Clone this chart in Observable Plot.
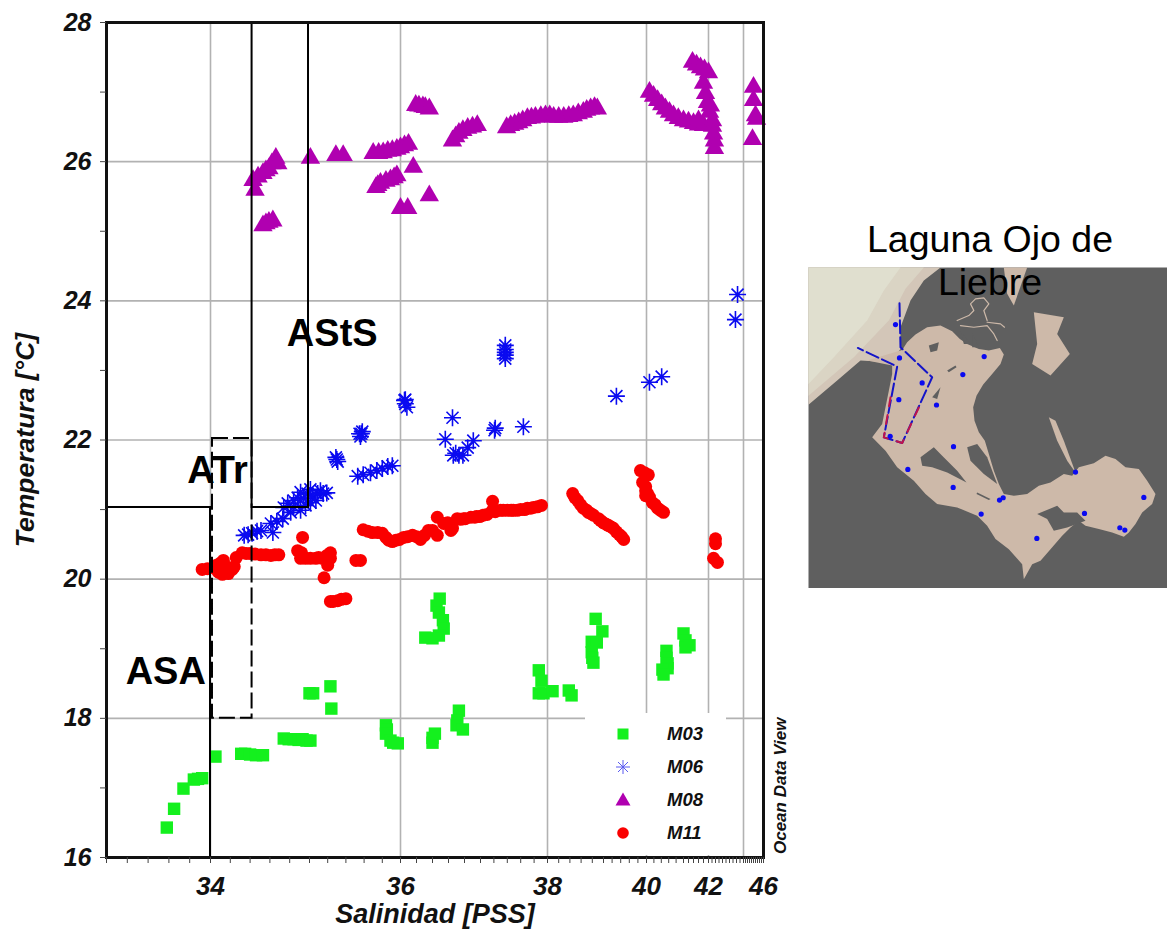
<!DOCTYPE html>
<html><head><meta charset="utf-8">
<script src="https://cdn.jsdelivr.net/npm/d3@7"></script>
<script src="https://cdn.jsdelivr.net/npm/@observablehq/plot@0.6"></script>
<style>
html,body{margin:0;padding:0;background:#fff;overflow:hidden;width:1167px;height:931px}
#chart svg,#map svg{position:absolute;background:transparent;max-width:none}
#chart svg{left:0;top:0}
#map svg{left:808px;top:267px}
#title{position:absolute;left:808px;width:364px;top:218px;text-align:center;font:37.5px/43px "Liberation Sans",Arial,sans-serif;color:#000}
#legend{position:absolute;left:585px;top:713px;width:141px;height:142px;background:#fff;font:italic bold 18.5px "Liberation Sans",Arial,sans-serif;color:#111}
#legend div{position:absolute;left:82px;line-height:20px}
#legend svg{position:absolute;left:26px;top:0}
</style></head><body>
<div id="chart"></div><div id="map"></div>
<div id="title">Laguna Ojo de<br>Liebre</div>
<div id="legend"></div>
<script>
// Salinity [PSS], temperature [°C]
const m03=[[33.58,16.43],[33.65,16.70],[33.74,16.99],[33.84,17.12],[33.88,17.13],[33.92,17.14],[34.05,17.45],[34.31,17.49],[34.35,17.49],[34.40,17.48],[34.46,17.47],[34.53,17.47],[34.74,17.71],[34.79,17.70],[34.84,17.70],[34.89,17.69],[34.93,17.70],[34.97,17.68],[35.01,17.68],[35.00,18.36],[35.04,18.36],[35.23,18.46],[35.24,18.14],[35.84,17.90],[35.85,17.84],[35.84,17.78],[35.89,17.68],[35.92,17.65],[35.97,17.64],[36.40,17.72],[36.40,17.65],[36.43,17.78],[36.49,19.72],[36.45,19.62],[36.48,19.52],[36.53,19.41],[36.54,19.29],[36.48,19.19],[36.40,19.15],[36.31,19.16],[36.73,18.11],[36.71,17.97],[36.70,17.90],[36.78,17.84],[37.87,18.69],[37.91,18.54],[37.87,18.36],[37.94,18.36],[38.09,18.39],[38.38,18.40],[38.43,18.33],[38.86,19.43],[38.98,19.25],[38.79,19.10],[38.88,19.09],[38.79,18.95],[38.80,18.87],[38.82,18.80],[40.54,18.97],[40.54,18.87],[40.57,18.79],[40.57,18.72],[40.43,18.70],[40.46,18.63],[41.00,19.22],[41.08,19.12],[41.08,19.02],[41.24,19.05]];
const m06=[[34.34,20.63],[34.38,20.64],[34.42,20.66],[34.47,20.69],[34.51,20.70],[34.63,20.67],[34.61,20.80],[34.67,20.83],[34.73,20.87],[34.81,20.96],[34.78,21.09],[34.74,21.03],[34.84,21.13],[34.84,21.04],[34.88,21.17],[34.94,21.16],[34.98,21.23],[34.91,21.25],[35.01,21.29],[35.03,21.20],[35.09,21.23],[35.12,21.27],[35.15,21.23],[35.19,21.24],[34.91,20.99],[34.96,21.06],[35.01,21.10],[35.07,21.13],[35.30,21.72],[35.29,21.75],[35.31,21.69],[35.57,22.09],[35.55,22.09],[35.58,22.12],[35.56,22.05],[36.06,22.52],[36.05,22.57],[36.06,22.58],[36.08,22.47],[37.37,23.36],[37.37,23.30],[37.37,23.26],[37.37,23.22],[37.37,23.17],[36.65,22.32],[36.56,22.01],[36.66,21.78],[36.69,21.81],[36.73,21.78],[36.78,21.78],[36.84,21.89],[36.91,21.99],[37.21,22.14],[37.22,22.17],[37.64,22.19],[35.53,21.48],[35.59,21.50],[35.67,21.53],[35.74,21.56],[35.80,21.59],[35.86,21.62],[35.91,21.63],[39.30,22.63],[40.08,22.83],[40.41,22.91],[43.66,24.09],[43.54,23.73]];
const m08=[[35.01,26.05],[35.29,26.09],[35.37,26.09],[35.70,26.12],[35.76,26.12],[35.81,26.13],[35.86,26.15],[35.91,26.16],[35.96,26.18],[36.00,26.20],[36.05,26.23],[36.10,26.25],[35.73,25.63],[35.75,25.66],[35.78,25.69],[35.84,25.72],[35.89,25.74],[35.93,25.77],[35.96,25.80],[36.16,25.92],[36.36,25.51],[36.00,25.33],[36.09,25.33],[36.19,26.81],[36.23,26.80],[36.28,26.79],[36.31,26.78],[36.36,26.76],[36.65,26.30],[36.69,26.36],[36.73,26.41],[36.78,26.45],[36.84,26.48],[36.90,26.50],[36.96,26.52],[34.66,26.05],[34.62,25.97],[34.59,25.90],[34.56,25.87],[34.53,25.83],[34.48,25.78],[34.43,25.73],[34.45,25.59],[34.59,25.13],[34.56,25.11],[34.53,25.08],[34.63,25.15],[34.68,25.97],[37.39,26.49],[37.45,26.52],[37.51,26.54],[37.57,26.56],[37.63,26.59],[37.70,26.62],[37.76,26.63],[37.82,26.64],[37.90,26.65],[37.97,26.66],[38.04,26.66],[38.11,26.64],[38.20,26.64],[38.29,26.64],[38.38,26.65],[38.46,26.66],[38.55,26.69],[38.64,26.71],[38.70,26.74],[38.77,26.76],[38.84,26.78],[38.89,26.76],[40.08,27.00],[40.19,26.94],[40.30,26.88],[40.41,26.82],[40.51,26.76],[40.62,26.71],[40.73,26.66],[40.86,26.62],[41.00,26.59],[41.20,26.57],[41.40,26.55],[41.60,26.53],[41.80,26.52],[41.60,26.59],[41.36,27.43],[41.52,27.39],[41.68,27.35],[41.84,27.32],[42.00,27.28],[41.80,27.13],[41.88,26.98],[41.96,26.85],[42.11,26.80],[42.06,26.71],[42.23,26.59],[42.23,26.51],[42.29,26.40],[42.34,26.30],[42.34,26.19],[45.0,27.07],[45.0,26.88],[45.2,26.66],[45.3,26.61],[44.9,26.32]];
const m11=[[33.92,20.14],[33.97,20.15],[34.05,20.15],[34.06,20.20],[34.10,20.23],[34.13,20.27],[34.13,20.12],[34.16,20.18],[34.18,20.12],[34.18,20.08],[34.12,20.07],[34.08,20.10],[34.22,20.14],[34.24,20.18],[34.26,20.31],[34.32,20.38],[34.36,20.37],[34.40,20.37],[34.45,20.36],[34.51,20.35],[34.56,20.35],[34.61,20.34],[34.65,20.35],[34.69,20.35],[34.93,20.60],[34.88,20.41],[34.92,20.38],[34.91,20.30],[34.96,20.30],[35.01,20.30],[35.07,20.30],[35.10,20.31],[35.14,20.30],[35.19,20.34],[35.23,20.38],[35.23,20.30],[35.20,20.20],[35.16,20.02],[35.51,20.27],[35.56,20.27],[35.23,19.68],[35.26,19.68],[35.31,19.69],[35.35,19.71],[35.40,19.72],[35.59,20.71],[35.64,20.69],[35.69,20.67],[35.75,20.67],[35.80,20.66],[35.84,20.60],[35.87,20.56],[35.91,20.54],[35.95,20.56],[35.99,20.57],[36.04,20.60],[36.09,20.61],[36.15,20.63],[36.20,20.61],[36.25,20.57],[36.30,20.63],[36.35,20.70],[36.40,20.70],[36.46,20.89],[36.46,20.63],[36.54,20.80],[36.59,20.81],[36.63,20.70],[36.65,20.73],[36.71,20.87],[36.75,20.86],[36.79,20.87],[36.81,20.87],[36.88,20.89],[36.93,20.89],[36.95,20.90],[36.99,20.90],[37.04,20.92],[37.10,20.93],[37.18,21.12],[37.18,20.99],[37.22,20.97],[37.30,20.99],[37.34,20.99],[37.40,20.99],[37.46,20.99],[37.49,20.99],[37.55,20.99],[37.60,21.00],[37.66,21.00],[37.70,21.02],[37.75,21.02],[37.79,21.03],[37.85,21.04],[37.91,21.06],[38.45,21.23],[38.49,21.17],[38.54,21.13],[38.59,21.07],[38.64,21.02],[38.70,20.99],[38.73,20.96],[38.78,20.94],[38.82,20.92],[38.91,20.87],[38.95,20.84],[39.00,20.81],[39.06,20.79],[39.12,20.77],[39.18,20.75],[39.23,20.73],[39.30,20.68],[39.37,20.64],[39.42,20.61],[39.47,20.57],[39.86,21.56],[39.95,21.53],[40.05,21.50],[39.91,21.39],[39.98,21.33],[39.98,21.27],[39.98,21.20],[40.03,21.23],[40.08,21.18],[40.16,21.10],[40.23,21.07],[40.30,21.02],[40.38,20.99],[40.46,20.96],[42.40,20.58],[42.40,20.51],[42.29,20.30],[42.51,20.24]];

const salBreaks=[33,34,35,36,37,38,39,40,41,42,44,46];
const salLabels=[34,36,38,40,42,46];
const salGrid=[34,36,38,40,42,44];
const tempGrid=[18,20,22,24,26];
const tempTicks=[16,17,18,19,20,21,22,23,24,25,26,27,28];
const tempLabels=[16,18,20,22,24,26,28];
const salMinor=d3.range(33,46.01,0.2).map(d=>+d.toFixed(1));
const solidBoxes=[{x1:33,x2:34,y1:16,y2:21.03},{x1:34.42,x2:34.99,y1:21.03,y2:28}];
const dashedBoxes=[{x1:34.02,x2:34.42,y1:18,y2:22.02}];
const waterLabels=[{s:33.57,t:18.67,name:"ASA"},{s:34.07,t:21.56,name:"ATr"},{s:35.25,t:23.53,name:"AStS"}];

const star={draw(c,size){const r=Math.sqrt(size/Math.PI);for(let i=0;i<4;i++){const a=i*Math.PI/4,x=r*Math.cos(a),y=r*Math.sin(a);c.moveTo(-x,-y);c.lineTo(x,y);}}};
const font='"Liberation Sans",Arial,sans-serif';
const bi={fontFamily:font,fontStyle:"italic",fontWeight:"bold",fill:"#111"};
const px={x:d=>d[0],y:d=>d[1]};

document.getElementById("chart").append(Plot.plot({
  width:800,height:931,marginLeft:106,marginRight:37,marginTop:22,marginBottom:74,
  x:{type:"linear",domain:salBreaks,range:[106,210,309,400,480,547,603,646,683,708,743,763],axis:null,label:null},
  y:{domain:[16,28],range:[857,22],axis:null,label:null},
  marks:[
    Plot.ruleX(salGrid,{stroke:"#b2b2b2",strokeWidth:1.6}),
    Plot.ruleY(tempGrid,{stroke:"#b2b2b2",strokeWidth:1.6}),
    Plot.dot(m03,{...px,symbol:"square",r:7,fill:"#14f01e"}),
    Plot.dot(m06,{...px,symbol:star,r:8.5,fill:"none",stroke:"#0a0af0",strokeWidth:1.6}),
    Plot.dot(m08,{...px,symbol:"triangle",r:7.2,fill:"#b000b0"}),
    Plot.dot(m11,{...px,r:6.5,fill:"#fa0000"}),
    Plot.rect(solidBoxes,{x1:"x1",x2:"x2",y1:"y1",y2:"y2",fill:"none",stroke:"#000",strokeWidth:2}),
    Plot.rect(dashedBoxes,{x1:"x1",x2:"x2",y1:"y1",y2:"y2",fill:"none",stroke:"#000",strokeWidth:2,strokeDasharray:"16 5"}),
    Plot.text(waterLabels,{x:"s",y:"t",text:"name",fontFamily:font,fontWeight:"bold",fontSize:38,fill:"#000"}),
    Plot.frame({stroke:"#111",strokeWidth:3}),
    Plot.axisX({ticks:salMinor,tickSize:6,tickFormat:()=>"",stroke:"#444",strokeWidth:1}),
    Plot.axisX({ticks:salLabels,tickSize:0,tickPadding:19,...bi,fontSize:26,tickFormat:d=>String(d)}),
    Plot.axisY({ticks:tempTicks,tickSize:6,tickFormat:()=>"",stroke:"#444",strokeWidth:1}),
    Plot.axisY({ticks:tempLabels,tickSize:0,tickPadding:15,...bi,fontSize:25,tickFormat:d=>String(d)}),
    Plot.text(["Salinidad [PSS]"],{frameAnchor:"bottom",dy:65,...bi,fontSize:27}),
    Plot.text(["Temperatura [°C]"],{frameAnchor:"left",textAnchor:"middle",dx:-81,rotate:-90,...bi,fontSize:26.5}),
    Plot.text(["Ocean Data View"],{x:()=>46,y:()=>17.03,dx:17,rotate:-90,...bi,fontSize:17})
  ]
}));

// Map (coordinates are local map units)
const seaLight=[[24,171],[300,171],[250,240],[200,330],[100,440],[24,520]];
const seaMid=[[24,171],[370,171],[315,235],[265,330],[160,440],[24,555]];
const seaBand=[[24,171],[420,171],[370,210],[330,270],[300,350],[300,415],[270,455],[180,450],[110,510],[24,582]];
const lagoon=[[305,418],[320,395],[345,372],[380,350],[420,345],[455,362],[478,385],[500,400],[535,415],[565,420],[598,412],[610,432],[600,460],[575,490],[548,522],[528,555],[518,590],[522,630],[535,665],[553,690],[565,730],[580,780],[595,820],[610,850],[640,855],[680,850],[715,825],[750,815],[790,790],[815,795],[835,770],[880,758],[915,735],[945,745],[975,770],[1015,775],[1040,810],[1065,850],[1055,880],[1025,905],[1005,940],[985,965],[970,978],[935,965],[895,955],[855,945],[835,930],[810,950],[785,975],[750,1015],[720,1050],[695,1060],[670,1105],[665,1060],[625,1015],[585,985],[560,945],[530,915],[470,890],[410,880],[375,850],[340,810],[290,770],[255,720],[215,680],[245,640],[255,590],[265,540],[275,490],[275,465],[200,450]];
const arm=[[745,620],[765,630],[790,690],[825,785],[800,750],[770,690]];
const eastIsland=[[700,305],[790,320],[770,370],[808,430],[750,495],[695,460],[710,400]];
const topLand=[[610,171],[680,171],[640,285],[620,250]];
const islands=[
 [[360,740],[400,710],[425,735],[470,780],[498,815],[440,785],[395,770],[365,765]],
 [[500,710],[530,700],[560,740],[590,820],[550,790],[510,750]],
 [[530,845],[570,865],[565,868],[528,850]],
 [[710,910],[770,885],[790,905],[830,905],[855,930],[800,950],[760,960],[740,925]],
 [[440,480],[465,465],[468,470],[445,485]],
 [[395,560],[420,530],[410,565]],
 [[385,405],[415,395],[410,420],[390,425]],
 [[480,360],[510,400],[490,400]],
 [[515,365],[535,410],[515,410]]
];
const creeks=[[[470,330],[505,315],[520,300],[510,280],[525,265],[550,262],[565,280],[550,300],[560,330]],[[480,345],[520,350],[560,345],[580,370],[590,390]],[[560,335],[600,340],[612,350]]];
const track=[[297,278],[300,410],[395,500],[305,697],[250,680],[290,468],[172,412]];
const trackRed=[[270,560],[250,680],[305,697],[360,580]];
const stations=[[285,342],[297,442],[365,517],[295,567],[269,677],[408,583],[487,492],[551,438],[459,708],[322,776],[458,830],[542,910],[597,868],[608,861],[825,784],[852,908],[709,983],[958,951],[973,958],[1030,860]];
const poly=(p,c)=>Plot.line(p,{...px,curve:"linear-closed",fill:c,stroke:"none"});
document.getElementById("map").append(Plot.plot({
  width:359,height:321,margin:0,
  x:{domain:[24,1101],range:[0,359],axis:null},
  y:{domain:[171,1133],range:[0,321],axis:null},
  marks:[
    Plot.frame({fill:"#5f5f5f",stroke:"none"}),
    poly(seaBand,"#d3c6b8"),poly(seaMid,"#dad4c4"),poly(seaLight,"#e0dfcf"),
    poly(lagoon,"#cdb9a9"),poly(arm,"#cdb9a9"),poly(eastIsland,"#cdb9a9"),poly(topLand,"#cdb9a9"),
    ...islands.map(p=>poly(p,"#5f5f5f")),
    ...creeks.map(p=>Plot.line(p,{...px,stroke:"#cdb9a9",strokeWidth:1.2})),
    Plot.line(track,{...px,stroke:"#1414c8",strokeWidth:2,strokeDasharray:"13 4"}),
    Plot.line(trackRed,{...px,stroke:"#c0144a",strokeWidth:2,strokeDasharray:"9 9"}),
    Plot.dot(stations,{...px,r:2.6,fill:"#0a0af0"})
  ]
}));

// Legend
const legendItems=[
 {name:"M03",mark:'<rect x="-5.5" y="-5.5" width="11" height="11" fill="#14f01e"/>'},
 {name:"M06",mark:'<path d="M-7 0H7M0-7V7M-5-5L5 5M-5 5L5-5" stroke="#5a5af0" stroke-width="1" fill="none"/>'},
 {name:"M08",mark:'<path d="M0-7.5L7.5 5.5H-7.5Z" fill="#b000b0"/>'},
 {name:"M11",mark:'<circle r="5.8" fill="#fa0000"/>'}
];
const lg=document.getElementById("legend");
lg.innerHTML=legendItems.map((it,i)=>{const y=21+i*33;return `<svg width="24" height="24" viewBox="-12 -12 24 24" style="top:${y-12}px">${it.mark}</svg><div style="top:${y-10}px">${it.name}</div>`}).join("");
</script>
</body></html>
